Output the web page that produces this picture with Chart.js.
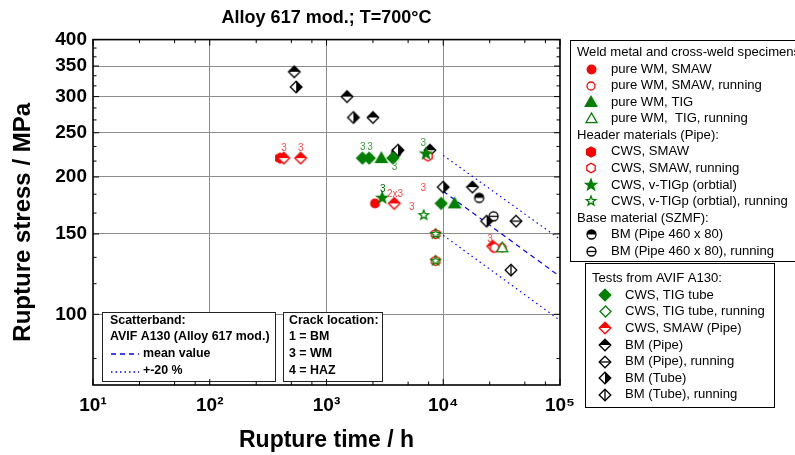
<!DOCTYPE html>
<html>
<head>
<meta charset="utf-8">
<script src="https://cdn.jsdelivr.net/npm/chart.js@4.4.0/dist/chart.umd.min.js"></script>
<style>
    html, body { margin: 0; padding: 0; background: #fff; }
</style>
</head>
<body>
<canvas id="chart" width="795" height="455"></canvas>
<script>
// rupture time (h) and rupture stress (MPa)
const pureWmSmawX = [2600];
const pureWmSmawY = [175];
const pureWmSmawRunX = [32000];
const pureWmSmawRunY = [140];
const pureWmTigX = [2950, 12500];
const pureWmTigY = [220, 175];
const pureWmTigRunX = [32000];
const pureWmTigRunY = [140];
const cwsSmawX = [400];
const cwsSmawY = [220];
const cwsSmawRunX = [7400, 8600, 8600, 27500];
const cwsSmawRunY = [222, 150, 131, 140];
const cwsVtigX = [7100, 3000];
const cwsVtigY = [225, 180];
const cwsVtigRunX = [6800, 8600, 8600];
const cwsVtigRunY = [165, 150, 131];
const bm460X = [3950, 20300];
const bm460Y = [226, 180];
const bm460RunX = [27000];
const bm460RunY = [164];
const avifTigX = [2030, 2320, 3700, 9600];
const avifTigY = [220, 220, 220, 175];
const avifTigRunX = [];
const avifTigRunY = [];
const avifSmawX = [430, 600, 3800, 26500];
const avifSmawY = [220, 220, 175, 141];
const bmPipeX = [530, 1500, 2500, 7700, 17800];
const bmPipeY = [340, 300, 270, 229, 190];
const bmPipeRunX = [42000];
const bmPipeRunY = [160];
const bmTubeX = [550, 1700, 4100, 10000, 23500];
const bmTubeY = [315, 270, 229, 190, 160];
const bmTubeRunX = [38000];
const bmTubeRunY = [125];

// scatterband AVIF A130
const bandX = [10000, 100000];
const meanY = [186, 121];
const upperY = [223, 146];
const lowerY = [149, 97];

// crack location notes next to the points
const crackText = ['3', '3', '3', '3', '3', '3', '3', '2x3', '3', '3', '3'];
const crackX = [433, 602, 2050, 2365, 3820, 6760, 3034, 3870, 6760, 5380, 25200];
const crackY = [231, 231, 232, 232, 210.5, 237, 188, 183, 189, 172, 146];
const crackKind = ['smaw', 'smaw', 'tig', 'tig', 'tig', 'tig', 'vtig', 'smaw', 'smaw', 'smaw', 'smaw'];

const xTicks = [10, 100, 1000, 10000, 100000];
const yTicks = [100, 150, 200, 250, 300, 350, 400];
const xMinorMult = [2.5, 5, 7.5];
const yMinorTicks = [80, 116.7, 133.3, 166.7, 183.3, 216.7, 233.3, 266.7, 283.3, 316.7, 333.3, 366.7, 383.3];

const FONT = "'Liberation Sans', Arial, sans-serif";
const RED = '#ff0000';
const GREEN = '#008000';
const BLUE = '#0000ff';
const labelColors = { smaw: '#ff4a4a', tig: '#3c9c3c', vtig: '#006400' };

function markerCanvas(shape, fill, color, r) {
    const size = Math.ceil(r * 2 + 4);
    const c = document.createElement('canvas');
    c.width = size;
    c.height = size;
    const g = c.getContext('2d');
    const m = size / 2;
    const path = () => {
        g.beginPath();
        if (shape === 'circle') {
            g.arc(m, m, r, 0, Math.PI * 2);
        } else if (shape === 'triangle') {
            g.moveTo(m, m - r);
            g.lineTo(m + r, m + r * 0.75);
            g.lineTo(m - r, m + r * 0.75);
        } else if (shape === 'hexagon') {
            for (let k = 0; k < 6; k++) {
                const a = -Math.PI / 2 + k * Math.PI / 3;
                g.lineTo(m + r * Math.cos(a), m + r * Math.sin(a));
            }
        } else if (shape === 'star') {
            for (let k = 0; k < 10; k++) {
                const rr = k % 2 ? r * 0.42 : r;
                const a = -Math.PI / 2 + k * Math.PI / 5;
                g.lineTo(m + rr * Math.cos(a), m + rr * Math.sin(a));
            }
        } else {
            g.moveTo(m, m - r);
            g.lineTo(m + r, m);
            g.lineTo(m, m + r);
            g.lineTo(m - r, m);
        }
        g.closePath();
    };
    g.lineWidth = 1.3;
    g.strokeStyle = color;
    path();
    g.fillStyle = fill === 'solid' ? color : '#fff';
    g.fill();
    if (fill === 'top' || fill === 'right') {
        g.save();
        path();
        g.clip();
        g.fillStyle = color;
        if (fill === 'top') g.fillRect(0, 0, size, m);
        else g.fillRect(m, 0, size, size);
        g.restore();
    }
    path();
    g.stroke();
    if (fill === 'hline' || fill === 'vline') {
        g.beginPath();
        if (fill === 'hline') { g.moveTo(m - r, m); g.lineTo(m + r, m); }
        else { g.moveTo(m, m - r); g.lineTo(m, m + r); }
        g.stroke();
    }
    return c;
}

const markers = {
    pureWmSmaw: markerCanvas('circle', 'solid', RED, 4.3),
    pureWmSmawRun: markerCanvas('circle', 'open', RED, 4),
    pureWmTig: markerCanvas('triangle', 'solid', GREEN, 5.8),
    pureWmTigRun: markerCanvas('triangle', 'open', GREEN, 5.5),
    cwsSmaw: markerCanvas('hexagon', 'solid', RED, 5),
    cwsSmawRun: markerCanvas('hexagon', 'open', RED, 4.8),
    cwsVtig: markerCanvas('star', 'solid', GREEN, 5.8),
    cwsVtigRun: markerCanvas('star', 'open', GREEN, 5),
    bm460: markerCanvas('circle', 'top', '#000', 4.5),
    bm460Run: markerCanvas('circle', 'hline', '#000', 4.5),
    avifTig: markerCanvas('diamond', 'solid', GREEN, 5.8),
    avifTigRun: markerCanvas('diamond', 'open', GREEN, 5.5),
    avifSmaw: markerCanvas('diamond', 'top', RED, 5.8),
    bmPipe: markerCanvas('diamond', 'top', '#000', 5.8),
    bmPipeRun: markerCanvas('diamond', 'hline', '#000', 5.8),
    bmTube: markerCanvas('diamond', 'right', '#000', 5.8),
    bmTubeRun: markerCanvas('diamond', 'vline', '#000', 5.8)
};

function series(xs, ys, key, order) {
    return {
        data: xs.map((x, i) => ({ x: x, y: ys[i] })),
        pointStyle: markers[key],
        pointRadius: 6,
        pointHoverRadius: 6,
        order: order
    };
}

function band(ys, dash) {
    return {
        data: bandX.map((x, i) => ({ x: x, y: ys[i] })),
        showLine: true,
        borderColor: BLUE,
        borderWidth: 1.2,
        borderDash: dash,
        pointRadius: 0,
        fill: false,
        order: 20
    };
}

const legendRight = [
    { text: 'Weld metal and cross-weld specimens:', header: true },
    { text: 'pure WM, SMAW', key: 'pureWmSmaw' },
    { text: 'pure WM, SMAW, running', key: 'pureWmSmawRun' },
    { text: 'pure WM, TIG', key: 'pureWmTig' },
    { text: 'pure WM,  TIG, running', key: 'pureWmTigRun' },
    { text: 'Header materials (Pipe):', header: true },
    { text: 'CWS, SMAW', key: 'cwsSmaw' },
    { text: 'CWS, SMAW, running', key: 'cwsSmawRun' },
    { text: 'CWS, v-TIGp (orbtial)', key: 'cwsVtig' },
    { text: 'CWS, v-TIGp (orbtial), running', key: 'cwsVtigRun' },
    { text: 'Base material (SZMF):', header: true },
    { text: 'BM (Pipe 460 x 80)', key: 'bm460' },
    { text: 'BM (Pipe 460 x 80), running', key: 'bm460Run' }
];

const legendAvif = [
    { text: 'Tests from AVIF A130:', header: true },
    { text: 'CWS, TIG tube', key: 'avifTig' },
    { text: 'CWS, TIG tube, running', key: 'avifTigRun' },
    { text: 'CWS, SMAW (Pipe)', key: 'avifSmaw' },
    { text: 'BM (Pipe)', key: 'bmPipe' },
    { text: 'BM (Pipe), running', key: 'bmPipeRun' },
    { text: 'BM (Tube)', key: 'bmTube' },
    { text: 'BM (Tube), running', key: 'bmTubeRun' }
];

function drawLegend(ctx, box, rows) {
    ctx.save();
    ctx.fillStyle = '#fff';
    ctx.fillRect(box.x, box.y, box.w, box.h);
    ctx.strokeStyle = '#000';
    ctx.lineWidth = 1;
    ctx.strokeRect(box.x + 0.5, box.y + 0.5, box.w, box.h);
    ctx.font = '13.1px ' + FONT;
    ctx.textBaseline = 'middle';
    ctx.fillStyle = '#000';
    rows.forEach((row, i) => {
        const y = box.firstY + i * box.step;
        if (row.header) {
            ctx.fillText(row.text, box.headerX, y);
        } else {
            const img = markers[row.key];
            ctx.drawImage(img, Math.round(box.markerX - img.width / 2), Math.round(y - img.height / 2));
            ctx.fillText(row.text, box.textX, y);
        }
    });
    ctx.restore();
}

const overlayPlugin = {
    id: 'overlay',
    afterDatasetsDraw(chart) {
        const { ctx, scales: { x, y } } = chart;
        ctx.save();
        // crack location notes
        ctx.font = '10px ' + FONT;
        ctx.textAlign = 'center';
        ctx.textBaseline = 'middle';
        crackText.forEach((t, i) => {
            ctx.fillStyle = labelColors[crackKind[i]];
            ctx.fillText(t, x.getPixelForValue(crackX[i]), y.getPixelForValue(crackY[i]));
        });

        // scatterband and crack location boxes
        ctx.textAlign = 'left';
        ctx.fillStyle = '#fff';
        ctx.fillRect(102, 312, 174, 70);
        ctx.fillRect(283, 312, 100, 70);
        ctx.strokeStyle = '#222';
        ctx.lineWidth = 1;
        ctx.strokeRect(102.5, 312.5, 173, 69);
        ctx.strokeRect(283.5, 312.5, 99, 69);
        ctx.fillStyle = '#000';
        ctx.font = 'bold 12.4px ' + FONT;
        ctx.fillText('Scatterband:', 110, 321);
        ctx.fillText('AVIF A130 (Alloy 617 mod.)', 110, 337);
        ctx.fillText('mean value', 143, 353.5);
        ctx.fillText('+-20 %', 143, 371);
        ctx.fillText('Crack location:', 289, 321);
        ctx.fillText('1 = BM', 289, 337);
        ctx.fillText('3 = WM', 289, 353.5);
        ctx.fillText('4 = HAZ', 289, 371);
        ctx.strokeStyle = BLUE;
        ctx.lineWidth = 1.5;
        ctx.setLineDash([5, 4]);
        ctx.beginPath(); ctx.moveTo(111, 354); ctx.lineTo(139, 354); ctx.stroke();
        ctx.setLineDash([1.5, 3]);
        ctx.beginPath(); ctx.moveTo(111, 372); ctx.lineTo(139, 372); ctx.stroke();
        ctx.restore();
    },
    afterDraw(chart) {
        const { ctx, chartArea: a, scales: { x, y } } = chart;
        ctx.save();
        ctx.strokeStyle = '#000';
        ctx.lineWidth = 1;
        const seg = (x1, y1, x2, y2) => {
            ctx.beginPath(); ctx.moveTo(x1, y1); ctx.lineTo(x2, y2); ctx.stroke();
        };
        // inward ticks on all four sides
        xTicks.forEach(v => {
            const px = x.getPixelForValue(v);
            seg(px, a.bottom, px, a.bottom - 6);
            seg(px, a.top, px, a.top + 6);
        });
        xTicks.slice(0, -1).forEach(d => {
            xMinorMult.forEach(m => {
                const px = x.getPixelForValue(d * m);
                seg(px, a.bottom, px, a.bottom - 3.5);
                seg(px, a.top, px, a.top + 3.5);
            });
        });
        yTicks.forEach(v => {
            const py = y.getPixelForValue(v);
            seg(a.left, py, a.left + 6, py);
            seg(a.right, py, a.right - 6, py);
        });
        yMinorTicks.forEach(v => {
            const py = y.getPixelForValue(v);
            seg(a.left, py, a.left + 3.5, py);
            seg(a.right, py, a.right - 3.5, py);
        });
        ctx.lineWidth = 1.6;
        ctx.strokeRect(a.left, a.top, a.right - a.left, a.bottom - a.top);
        ctx.restore();

        drawLegend(ctx, { x: 570, y: 40, w: 240, h: 221, firstY: 52.5, step: 16.55, headerX: 577, markerX: 591, textX: 611 }, legendRight);
        drawLegend(ctx, { x: 585, y: 263, w: 189, h: 144, firstY: 278.5, step: 16.6, headerX: 592, markerX: 605, textX: 625 }, legendAvif);
    }
};

const sup = { 1: '\u00b9', 2: '\u00b2', 3: '\u00b3', 4: '\u2074', 5: '\u2075' };
const gridColor = (edgeValues) => (c) =>
    (c.tick && edgeValues.includes(c.tick.value)) ? 'rgba(0,0,0,0)' : '#8c8c8c';

new Chart(document.getElementById('chart').getContext('2d'), {
    type: 'scatter',
    data: {
        datasets: [
            series(cwsVtigRunX, cwsVtigRunY, 'cwsVtigRun', 1),
            series(pureWmTigRunX, pureWmTigRunY, 'pureWmTigRun', 2),
            series(cwsVtigX, cwsVtigY, 'cwsVtig', 3),
            series(cwsSmawRunX, cwsSmawRunY, 'cwsSmawRun', 4),
            series(pureWmSmawRunX, pureWmSmawRunY, 'pureWmSmawRun', 5),
            series(pureWmSmawX, pureWmSmawY, 'pureWmSmaw', 6),
            series(pureWmTigX, pureWmTigY, 'pureWmTig', 7),
            series(avifSmawX, avifSmawY, 'avifSmaw', 8),
            series(cwsSmawX, cwsSmawY, 'cwsSmaw', 9),
            series(avifTigX, avifTigY, 'avifTig', 10),
            series(avifTigRunX, avifTigRunY, 'avifTigRun', 10),
            series(bmPipeX, bmPipeY, 'bmPipe', 11),
            series(bmPipeRunX, bmPipeRunY, 'bmPipeRun', 11),
            series(bmTubeX, bmTubeY, 'bmTube', 12),
            series(bmTubeRunX, bmTubeRunY, 'bmTubeRun', 12),
            series(bm460X, bm460Y, 'bm460', 13),
            series(bm460RunX, bm460RunY, 'bm460Run', 13),
            band(meanY, [5, 4]),
            band(upperY, [1.5, 3.5]),
            band(lowerY, [1.5, 3.5])
        ]
    },
    options: {
        responsive: false,
        animation: false,
        events: [],
        layout: { padding: { left: 0, right: 235, top: 0, bottom: 0 } },
        plugins: {
            legend: { display: false },
            tooltip: { enabled: false },
            title: {
                display: true,
                text: 'Alloy 617 mod.; T=700°C',
                fullSize: false,
                color: '#000',
                font: { family: FONT, size: 18, weight: 'bold' },
                padding: { top: 7, bottom: 11 }
            }
        },
        scales: {
            x: {
                type: 'logarithmic',
                min: 10,
                max: 100000,
                afterBuildTicks: s => { s.ticks = xTicks.map(v => ({ value: v })); },
                afterFit: s => { s.height = 70; },
                grid: { color: gridColor([10, 100000]), lineWidth: 1, drawTicks: false },
                border: { display: false },
                ticks: {
                    autoSkip: false,
                    maxRotation: 0,
                    padding: 9,
                    color: '#000',
                    font: { family: FONT, size: 19, weight: 'bold' },
                    callback: v => '10' + sup[Math.round(Math.log10(v))]
                },
                title: {
                    display: true,
                    text: 'Rupture time / h',
                    color: '#000',
                    font: { family: FONT, size: 23, weight: 'bold' },
                    padding: { top: 0, bottom: 1 }
                }
            },
            y: {
                type: 'logarithmic',
                min: 70,
                max: 400,
                afterBuildTicks: s => { s.ticks = yTicks.map(v => ({ value: v })); },
                afterFit: s => { s.width = 93; },
                grid: { color: gridColor([400]), lineWidth: 1, drawTicks: false },
                border: { display: false },
                ticks: {
                    autoSkip: false,
                    padding: 6,
                    color: '#000',
                    font: { family: FONT, size: 19, weight: 'bold' },
                    callback: v => String(v)
                },
                title: {
                    display: true,
                    text: 'Rupture stress / MPa   ',
                    color: '#000',
                    font: { family: FONT, size: 24, weight: 'bold' },
                    padding: { top: 8.5, bottom: 0 }
                }
            }
        }
    },
    plugins: [overlayPlugin]
});
</script>
</body>
</html>
